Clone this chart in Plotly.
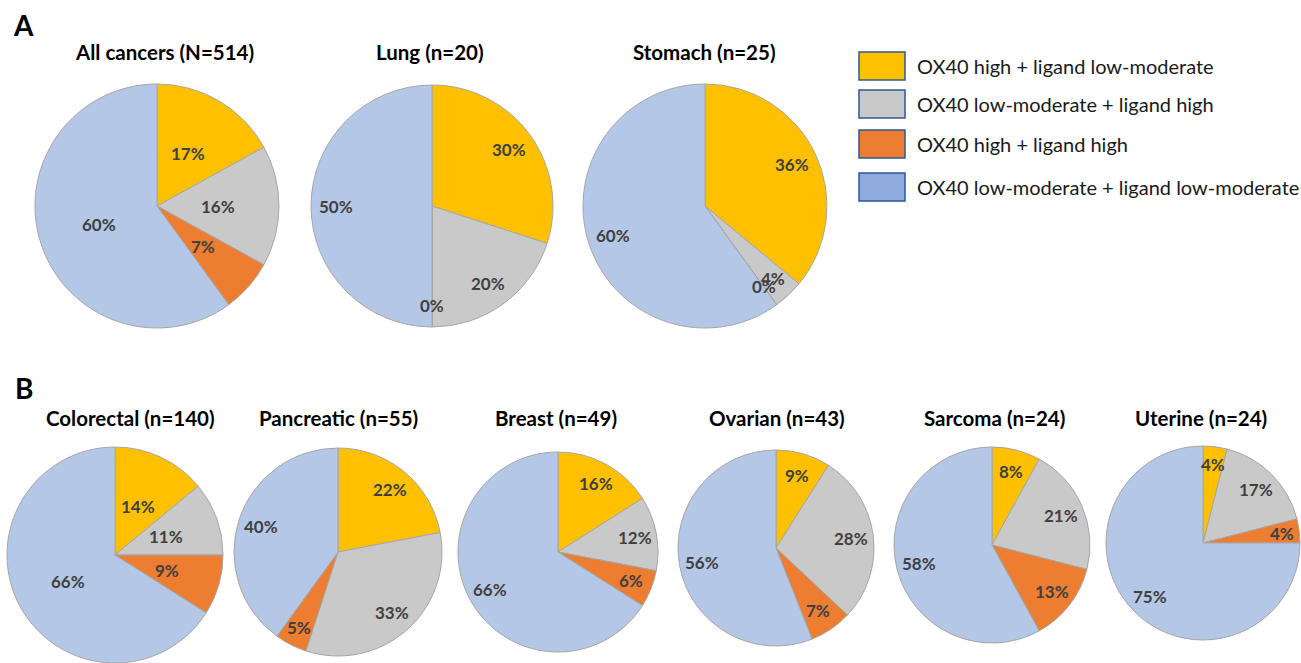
import math
import plotly.graph_objects as go

categories = [
    "OX40 high + ligand low-moderate",
    "OX40 low-moderate + ligand high",
    "OX40 high + ligand high",
    "OX40 low-moderate + ligand low-moderate",
]

titles = [
    "All cancers (N=514)", "Lung (n=20)", "Stomach (n=25)",
    "Colorectal (n=140)", "Pancreatic (n=55)", "Breast (n=49)",
    "Ovarian (n=43)", "Sarcoma (n=24)", "Uterine (n=24)",
]

all_cancers = [17, 16, 7, 60]
lung = [30, 20, 0, 50]
stomach = [36, 4, 0, 60]
colorectal = [14, 11, 9, 66]
pancreatic = [22, 33, 5, 40]
breast = [16, 12, 6, 66]
ovarian = [9, 28, 7, 56]
sarcoma = [8, 21, 13, 58]
uterine = [4, 17, 4, 75]

series = [all_cancers, lung, stomach, colorectal, pancreatic, breast,
          ovarian, sarcoma, uterine]

slice_colors = ["#FFC000", "#C9C9C9", "#ED7D31", "#B4C7E7"]
legend_colors = ["#FFC000", "#C9C9C9", "#ED7D31", "#8FAADC"]

W, H = 1301, 663

# pie placement: centre x, centre y, radius (px), title x, title y,
# and radial position of the data labels (fraction of radius)
layout_px = [
    (157, 206, 122, 164, 52, 0.50),
    (432, 206, 121, 430, 52, 0.79),
    (705, 206, 122, 704, 52, 0.79),
    (115, 555, 108, 130, 418, 0.50),
    (338, 552, 104, 338, 418, 0.78),
    (558, 552, 100, 556, 418, 0.78),
    (776, 548, 98, 777, 418, 0.77),
    (992, 545, 98, 994, 418, 0.77),
    (1203, 543, 97, 1201, 418, 0.78),
]

FONT = "Lato, 'Open Sans', sans-serif"
LABEL_FONT = dict(family=FONT, size=17, color="#404040")

fig = go.Figure()
annotations = []
shapes = []

for vals, title, (cx, cy, r, tx, ty, lf) in zip(series, titles, layout_px):
    dom_x = [max(0, (cx - r) / W), min(1, (cx + r) / W)]
    dom_y = [max(0, 1 - (cy + r) / H), min(1, 1 - (cy - r) / H)]
    fig.add_trace(go.Pie(
        labels=categories,
        values=vals,
        sort=False,
        direction="clockwise",
        rotation=0,
        domain=dict(x=dom_x, y=dom_y),
        marker=dict(colors=slice_colors, line=dict(color="#A6A6A6", width=1)),
        textinfo="none",
        showlegend=False,
        hoverinfo="label+value",
    ))
    # data labels at each slice's middle angle (clockwise from 12 o'clock)
    total = sum(vals)
    cum = 0
    for v in vals:
        ang = 2 * math.pi * (cum + v / 2) / total
        frac = lf if v > 5 else max(lf, 0.82)
        lx = cx + frac * r * math.sin(ang)
        ly = cy - frac * r * math.cos(ang)
        annotations.append(dict(
            x=lx / W, y=1 - ly / H, xref="paper", yref="paper",
            xanchor="center", yanchor="middle",
            text="<b>%d%%</b>" % v, showarrow=False, font=LABEL_FONT,
        ))
        cum += v
    annotations.append(dict(
        x=tx / W, y=1 - ty / H, xref="paper", yref="paper",
        xanchor="center", yanchor="middle",
        text="<b>%s</b>" % title, showarrow=False,
        font=dict(family=FONT, size=20.5, color="#000000"),
    ))

# panel letters
for letter, (lx, ly) in zip(["A", "B"], [(24, 25), (24, 388)]):
    annotations.append(dict(
        x=lx / W, y=1 - ly / H, xref="paper", yref="paper",
        xanchor="center", yanchor="middle",
        text="<b>%s</b>" % letter, showarrow=False,
        font=dict(family=FONT, size=28, color="#000000"),
    ))

# legend
leg_rows = [66, 104, 144, 187]
for cat, col, yc in zip(categories, legend_colors, leg_rows):
    shapes.append(dict(
        type="rect", xref="paper", yref="paper",
        x0=859 / W, x1=905 / W, y0=1 - (yc + 14) / H, y1=1 - (yc - 14) / H,
        fillcolor=col, line=dict(color="#2F5597", width=1.5),
    ))
    annotations.append(dict(
        x=915 / W, y=1 - yc / H, xref="paper", yref="paper",
        xanchor="left", yanchor="middle", text=cat, showarrow=False,
        font=dict(family=FONT, size=20, color="#1a1a1a"),
    ))

fig.update_layout(
    width=W, height=H,
    margin=dict(l=0, r=0, t=0, b=0),
    paper_bgcolor="white",
    plot_bgcolor="white",
    annotations=annotations,
    shapes=shapes,
)

fig.write_html("out.html")
